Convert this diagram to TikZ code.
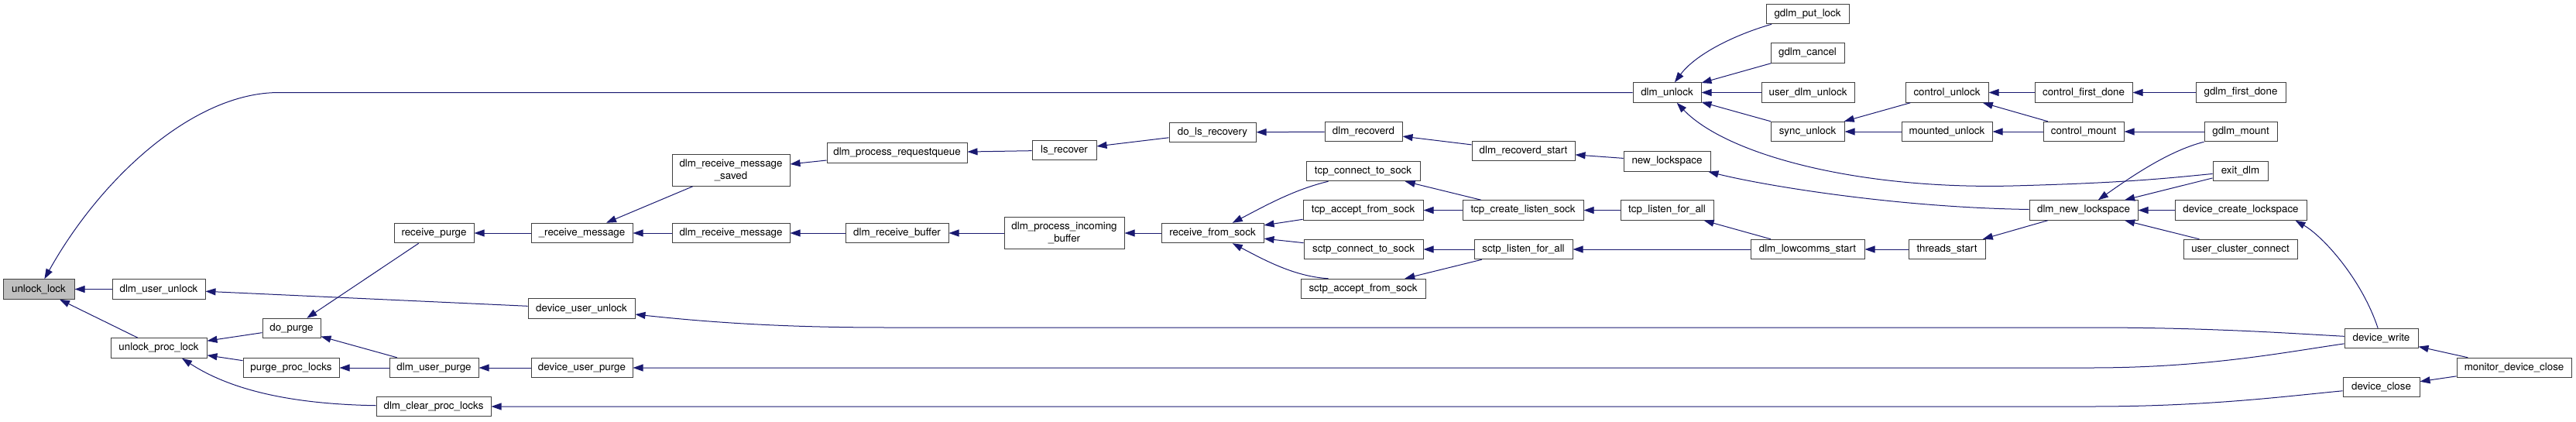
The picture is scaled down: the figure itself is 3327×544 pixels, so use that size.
\documentclass[tikz,border=0pt]{standalone}
\usepackage{fontspec}
\setmainfont{TeX Gyre Heros}
\usepackage{xcolor}
\usetikzlibrary{arrows.meta}
\definecolor{edgeblue}{HTML}{191970}
\definecolor{grey25}{HTML}{404040}
\definecolor{grey75}{HTML}{BFBFBF}

\begin{document}
\begin{tikzpicture}[x=1pt, y=-1pt,
    fn/.style={draw=grey25, line width=1pt, fill=white, rectangle,
      minimum height=25.5pt, inner xsep=2pt, inner ysep=0pt, align=center,
      font=\fontsize{13.33}{15.7}\selectfont},
    fntwo/.style={fn, minimum height=40.5pt},
    root/.style={fn, fill=grey75},
    call/.style={draw=edgeblue, line width=1pt,
      {Triangle[length=13pt, width=9pt, fill=edgeblue]}-}]
  \useasboundingbox (0,0) rectangle (3327,544);
  % Nodes, column by column
  \node[root, minimum width=92pt] (unlockl) at (50,373.5) {unlock\_lock};
  \node[fn, minimum width=120pt] (dlmuserunlock) at (205,373.5) {dlm\_user\_unlock};
  \node[fn, minimum width=124pt] (unlockproc) at (205,449.5) {unlock\_proc\_lock};
  \node[fn, minimum width=75pt] (dopurge) at (376.5,424) {do\_purge};
  \node[fn, minimum width=124pt] (purgeproc) at (376,475) {purge\_proc\_locks};
  \node[fn, minimum width=103pt] (recvpurge) at (560.5,301) {receive\_purge};
  \node[fn, minimum width=115pt] (dlmuserpurge) at (560.5,475) {dlm\_user\_purge};
  \node[fn, minimum width=148pt] (dlmclear) at (560,525) {dlm\_clear\_proc\_locks};
  \node[fn, minimum width=131pt] (recvmsg) at (751.5,301) {\_receive\_message};
  \node[fn, minimum width=138pt] (devuserunlock) at (751,398.5) {device\_user\_unlock};
  \node[fn, minimum width=131pt] (devuserpurge) at (751.5,475) {device\_user\_purge};
  \node[fntwo, minimum width=152pt] (recvmsgsaved) at (944,220) {dlm\_receive\_message\\\_saved};
  \node[fn, minimum width=152pt] (dlmrecvmsg) at (944,301) {dlm\_receive\_message};
  \node[fn, minimum width=181pt] (procreq) at (1158.5,197.5) {dlm\_process\_requestqueue};
  \node[fn, minimum width=133pt] (recvbuffer) at (1158.5,301) {dlm\_receive\_buffer};
  \node[fn, minimum width=83pt] (lsrecover) at (1374.5,194) {ls\_recover};
  \node[fntwo, minimum width=155pt] (procincoming) at (1374.5,301) {dlm\_process\_incoming\\\_buffer};
  \node[fn, minimum width=112pt] (dolsrecovery) at (1566,171) {do\_ls\_recovery};
  \node[fn, minimum width=132pt] (recvfromsock) at (1566,301) {receive\_from\_sock};
  \node[fn, minimum width=100pt] (recoverd) at (1761,170) {dlm\_recoverd};
  \node[fn, minimum width=147pt] (tcpconnect) at (1760.5,221) {tcp\_connect\_to\_sock};
  \node[fn, minimum width=155pt] (tcpaccept) at (1760.5,271.5) {tcp\_accept\_from\_sock};
  \node[fn, minimum width=154pt] (sctpconnect) at (1761,322) {sctp\_connect\_to\_sock};
  \node[fn, minimum width=161pt] (sctpaccept) at (1760.5,373) {sctp\_accept\_from\_sock};
  \node[fn, minimum width=133pt] (recoverdstart) at (1967.5,195) {dlm\_recoverd\_start};
  \node[fn, minimum width=156pt] (tcpcreate) at (1967,271.5) {tcp\_create\_listen\_sock};
  \node[fn, minimum width=127pt] (sctplisten) at (1967.5,322) {sctp\_listen\_for\_all};
  \node[fn, minimum width=88pt] (dlmunlock) at (2153,119.5) {dlm\_unlock};
  \node[fn, minimum width=112pt] (newls) at (2153,208.5) {new\_lockspace};
  \node[fn, minimum width=120pt] (tcplisten) at (2153,271.5) {tcp\_listen\_for\_all};
  \node[fn, minimum width=107pt] (gdlmputlock) at (2334.5,18) {gdlm\_put\_lock};
  \node[fn, minimum width=95pt] (gdlmcancel) at (2334.5,68.5) {gdlm\_cancel};
  \node[fn, minimum width=120pt] (userdlmunlock) at (2335,119.5) {user\_dlm\_unlock};
  \node[fn, minimum width=95pt] (syncunlock) at (2334.5,170) {sync\_unlock};
  \node[fn, minimum width=147pt] (lowcomms) at (2334.5,322) {dlm\_lowcomms\_start};
  \node[fn, minimum width=107pt] (controlunlock) at (2514.5,119.5) {control\_unlock};
  \node[fn, minimum width=117pt] (mountedunlock) at (2514.5,170) {mounted\_unlock};
  \node[fn, minimum width=99pt] (threadsstart) at (2514.5,322) {threads\_start};
  \node[fn, minimum width=126pt] (controlfirstdone) at (2691,119.5) {control\_first\_done};
  \node[fn, minimum width=104pt] (controlmount) at (2691,170) {control\_mount};
  \node[fn, minimum width=140pt] (dlmnewls) at (2691,271.5) {dlm\_new\_lockspace};
  \node[fn, minimum width=116pt] (gdlmfirstdone) at (2894,119.5) {gdlm\_first\_done};
  \node[fn, minimum width=94pt] (gdlmmount) at (2894,170) {gdlm\_mount};
  \node[fn, minimum width=71pt] (exitdlm) at (2893.5,221) {exit\_dlm};
  \node[fn, minimum width=170pt] (devcreatels) at (2894,271.5) {device\_create\_lockspace};
  \node[fn, minimum width=147pt] (userclusterconnect) at (2893.5,322) {user\_cluster\_connect};
  \node[fn, minimum width=95pt] (devicewrite) at (3075.5,437) {device\_write};
  \node[fn, minimum width=99pt] (deviceclose) at (3075.5,500) {device\_close};
  \node[fn, minimum width=148pt] (monitorclose) at (3247,475) {monitor\_device\_close};
  % Callers of unlock_lock
  \draw[call] (unlockl) .. controls (130,230) and (250,119.5) .. (360,119.5) -- (dlmunlock);
  \draw[call] (unlockl) -- (dlmuserunlock);
  \draw[call] (unlockl) -- (unlockproc);
  \draw[call] (dlmuserunlock) -- (devuserunlock);
  \draw[call] (unlockproc) -- (dopurge);
  \draw[call] (unlockproc) -- (purgeproc);
  \draw[call] ([shift={(30,0)}]unlockproc.south) .. controls (300,505) and (380,522) .. (dlmclear);
  \draw[call] (dopurge) -- (recvpurge);
  \draw[call] (dopurge) -- (dlmuserpurge);
  \draw[call] (purgeproc) -- (dlmuserpurge);
  \draw[call] (dlmuserpurge) -- (devuserpurge);
  % Message and recovery paths
  \draw[call] (recvpurge) -- (recvmsg);
  \draw[call] (recvmsg) -- (recvmsgsaved);
  \draw[call] (recvmsg) -- (dlmrecvmsg);
  \draw[call] (recvmsgsaved) -- (procreq);
  \draw[call] (dlmrecvmsg) -- (recvbuffer);
  \draw[call] (procreq) -- (lsrecover);
  \draw[call] (lsrecover) -- (dolsrecovery);
  \draw[call] (dolsrecovery) -- (recoverd);
  \draw[call] (recoverd) -- (recoverdstart);
  \draw[call] (recoverdstart) -- (newls);
  \draw[call] (newls) .. controls (2280,240) and (2450,268) .. (dlmnewls);
  \draw[call] (recvbuffer) -- (procincoming);
  \draw[call] (procincoming) -- (recvfromsock);
  % Socket layer
  \draw[call] (recvfromsock) .. controls (1630,268) and (1670,245) .. ([shift={(-45,0)}]tcpconnect.south);
  \draw[call] (recvfromsock) -- (tcpaccept);
  \draw[call] (recvfromsock) -- (sctpconnect);
  \draw[call] (recvfromsock) .. controls (1630,334) and (1670,357) .. ([shift={(-45,0)}]sctpaccept.north);
  \draw[call] (tcpconnect) -- (tcpcreate);
  \draw[call] (tcpaccept) -- (tcpcreate);
  \draw[call] (sctpconnect) -- (sctplisten);
  \draw[call] (sctpaccept) -- (sctplisten);
  \draw[call] (tcpcreate) -- (tcplisten);
  \draw[call] (tcplisten) -- (lowcomms);
  \draw[call] (sctplisten) -- (lowcomms);
  \draw[call] (lowcomms) -- (threadsstart);
  \draw[call] (threadsstart) -- (dlmnewls);
  % Callers of dlm_unlock
  \draw[call] (dlmunlock) .. controls (2190,70) and (2240,45) .. (gdlmputlock);
  \draw[call] (dlmunlock) -- (gdlmcancel);
  \draw[call] (dlmunlock) -- (userdlmunlock);
  \draw[call] (dlmunlock) -- (syncunlock);
  \draw[call] (dlmunlock) .. controls (2230,200) and (2400,245) .. (2600,240)
    .. controls (2750,236) and (2800,230) .. (exitdlm);
  \draw[call] (syncunlock) -- (controlunlock);
  \draw[call] (syncunlock) -- (mountedunlock);
  \draw[call] (controlunlock) -- (controlfirstdone);
  \draw[call] (controlunlock) -- (controlmount);
  \draw[call] (mountedunlock) -- (controlmount);
  \draw[call] (controlfirstdone) -- (gdlmfirstdone);
  \draw[call] (controlmount) -- (gdlmmount);
  % Callers of dlm_new_lockspace
  \draw[call] (dlmnewls) .. controls (2750,230) and (2800,195) .. (gdlmmount.south west);
  \draw[call] (dlmnewls) -- (exitdlm);
  \draw[call] (dlmnewls) -- (devcreatels);
  \draw[call] (dlmnewls) -- (userclusterconnect);
  \draw[call] ([shift={(-15,0)}]devcreatels.south east) .. controls (3000,305) and (3050,360) .. (devicewrite);
  % Device entry points
  \draw[call] (devuserunlock) .. controls (950,420) and (1050,423) .. (1150,423) -- (2700,423)
    .. controls (2850,423) and (2950,430) .. (devicewrite);
  \draw[call] (devuserpurge) -- (2700,475) .. controls (2850,475) and (2950,455) .. (devicewrite);
  \draw[call] (dlmclear) -- (2700,525) .. controls (2850,525) and (2950,512) .. (deviceclose);
  \draw[call] (devicewrite) -- (monitorclose);
  \draw[call] (deviceclose) -- (monitorclose);
\end{tikzpicture}
\end{document}
